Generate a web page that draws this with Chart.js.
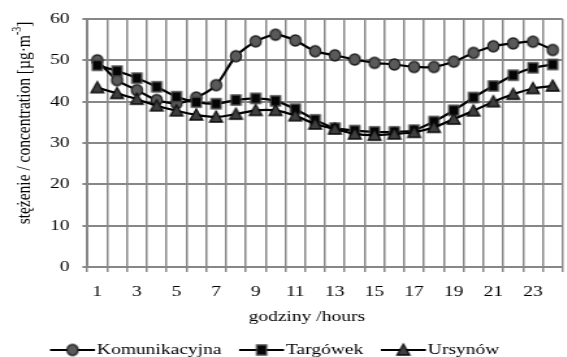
<!DOCTYPE html>
<html><head><meta charset="utf-8">
<script src="https://cdn.jsdelivr.net/npm/chart.js@4.4.1/dist/chart.umd.min.js"></script>
<style>
html,body{margin:0;padding:0;overflow:hidden;background:#fff;width:567px;height:357px}
#wrap{position:absolute;left:0;top:0;width:441px;height:357px;transform:scaleX(1.3);transform-origin:0 0}
canvas{display:block}
</style></head><body>
<div id="wrap"><canvas id="c" width="441" height="357"></canvas></div>
<script>
// ---- data ----
const hours = ['1','2','3','4','5','6','7','8','9','10','11','12','13','14','15','16','17','18','19','20','21','22','23','24'];
const komunikacyjna = [50.0,45.2,42.8,40.4,39.6,41.0,44.0,51.0,54.6,56.2,54.8,52.2,51.2,50.2,49.4,49.0,48.4,48.4,49.7,51.8,53.4,54.1,54.5,52.5];
const targowek = [48.8,47.4,45.7,43.6,41.2,39.9,39.5,40.4,40.8,40.2,38.2,35.6,33.6,33.0,32.7,32.7,33.1,35.2,37.9,41.0,43.8,46.4,48.2,49.0];
const ursynow = [43.4,42.0,40.6,39.0,37.8,36.8,36.3,37.0,37.9,37.9,36.6,34.6,33.4,32.2,31.9,32.2,32.6,33.8,35.8,37.8,40.0,41.8,43.2,43.8];
const yTicks = [0,10,20,30,40,50,60];
const seriesNames = ['Komunikacyjna','Targówek','Ursynów'];
const xTitle = 'godziny /hours';
const yTitleParts = ['stężenie / concentration [µg·m','-3',']'];

// ---- styling helpers ----
const SX = 1.3; // horizontal stretch applied to the whole chart by CSS
const FONT = '"Liberation Serif", "Times New Roman", serif';
function marker(kind, size, fill, stroke, lw){
  const H = size + 4, W = Math.ceil(H / SX) + 1;
  const c = document.createElement('canvas'); c.width = W; c.height = H;
  const g = c.getContext('2d');
  g.setTransform(1/SX, 0, 0, 1, W/2, H/2);
  const r = size/2;
  g.beginPath();
  if (kind === 'circle') g.arc(0, 0, r, 0, Math.PI*2);
  else if (kind === 'square') g.rect(-r, -r, size, size);
  else { g.moveTo(0, -r); g.lineTo(r*1.05, r*0.85); g.lineTo(-r*1.05, r*0.85); g.closePath(); }
  g.fillStyle = fill; g.fill();
  g.lineWidth = lw; g.strokeStyle = stroke; g.stroke();
  return c;
}
const mCircle = marker('circle', 11, '#5a5a5a', '#1c1c1c', 1.5);
const mSquare = marker('square', 10, '#050505', '#4a4a4a', 1.5);
const mTri = marker('tri', 12, '#3f3f3f', '#0a0a0a', 1.5);

const textPlugin = {
  id: 'texts',
  afterDraw(chart){
    const ctx = chart.ctx;
    ctx.save();
    ctx.fillStyle = '#000';
    // x title
    ctx.font = '15px ' + FONT;
    ctx.textAlign = 'center'; ctx.textBaseline = 'middle';
    ctx.fillText(xTitle, 236, 317);
    // y title (rotated, with superscript)
    ctx.translate(18.5, 123);
    ctx.rotate(-Math.PI/2);
    ctx.textAlign = 'left'; ctx.textBaseline = 'middle';
    const big = '15.5px ' + FONT, small = '10px ' + FONT;
    ctx.font = big; const w0 = ctx.measureText(yTitleParts[0]).width;
    ctx.font = small; const w1 = ctx.measureText(yTitleParts[1]).width;
    ctx.font = big; const w2 = ctx.measureText(yTitleParts[2]).width;
    let x = -(w0 + w1 + w2)/2;
    ctx.font = big; ctx.fillText(yTitleParts[0], x, 0); x += w0;
    ctx.font = small; ctx.fillText(yTitleParts[1], x, -5); x += w1;
    ctx.font = big; ctx.fillText(yTitleParts[2], x, 0);
    ctx.restore();
    // legend
    ctx.save();
    ctx.font = '15px ' + FONT;
    ctx.textBaseline = 'middle'; ctx.textAlign = 'left';
    const lineLen = 34.6, gapText = 1.5, gapItem = 13.5, y = 350;
    let lx = 38.5;
    chart.data.datasets.forEach(ds => {
      ctx.strokeStyle = '#000'; ctx.lineWidth = 2.2;
      ctx.beginPath(); ctx.moveTo(lx, y); ctx.lineTo(lx + lineLen, y); ctx.stroke();
      const img = ds.pointStyle;
      ctx.drawImage(img, lx + lineLen/2 - img.width/2, y - img.height/2);
      lx += lineLen + gapText;
      ctx.fillStyle = '#000';
      ctx.fillText(ds.label, lx, y);
      lx += ctx.measureText(ds.label).width + gapItem;
    });
    ctx.restore();
  }
};

const gridColor = '#878787';
new Chart(document.getElementById('c'), {
  type: 'line',
  data: {
    labels: hours,
    datasets: [
      {label: seriesNames[0], data: komunikacyjna, borderColor: '#000', borderWidth: 2.2, pointStyle: mCircle, pointRadius: 6, tension: 0.25, order: 2},
      {label: seriesNames[1], data: targowek, borderColor: '#000', borderWidth: 2.2, pointStyle: mSquare, pointRadius: 6, tension: 0.25, order: 1},
      {label: seriesNames[2], data: ursynow, borderColor: '#000', borderWidth: 2.2, pointStyle: mTri, pointRadius: 6, tension: 0.25, order: 0}
    ]
  },
  options: {
    responsive: false, animation: false, devicePixelRatio: 1,
    layout: {padding: {top: 17.7, left: 0, right: 0, bottom: 0}},
    font: {family: FONT, size: 15},
    plugins: {legend: {display: false}, tooltip: {enabled: false}},
    events: [],
    scales: {
      x: {
        offset: true,
        grid: {offset: true, color: gridColor, lineWidth: 1.5, tickLength: 5},
        border: {color: gridColor, width: 2},
        ticks: {autoSkip: false, maxRotation: 0, padding: 11, color: '#000', font: {family: FONT, size: 15},
          callback: (v, i) => (i % 2 === 0 ? hours[i] : '')},
        afterFit(s){ s.height = 90; }
      },
      y: {
        min: 0, max: 60,
        afterBuildTicks(s){ s.ticks = yTicks.map(v => ({value: v})); },
        grid: {color: gridColor, lineWidth: 2, tickLength: 3.8},
        border: {color: gridColor, width: 2},
        ticks: {padding: 10, color: '#000', font: {family: FONT, size: 15}},
        afterFit(s){ s.width = 67.2; }
      }
    }
  },
  plugins: [textPlugin]
});
</script>
</body></html>
